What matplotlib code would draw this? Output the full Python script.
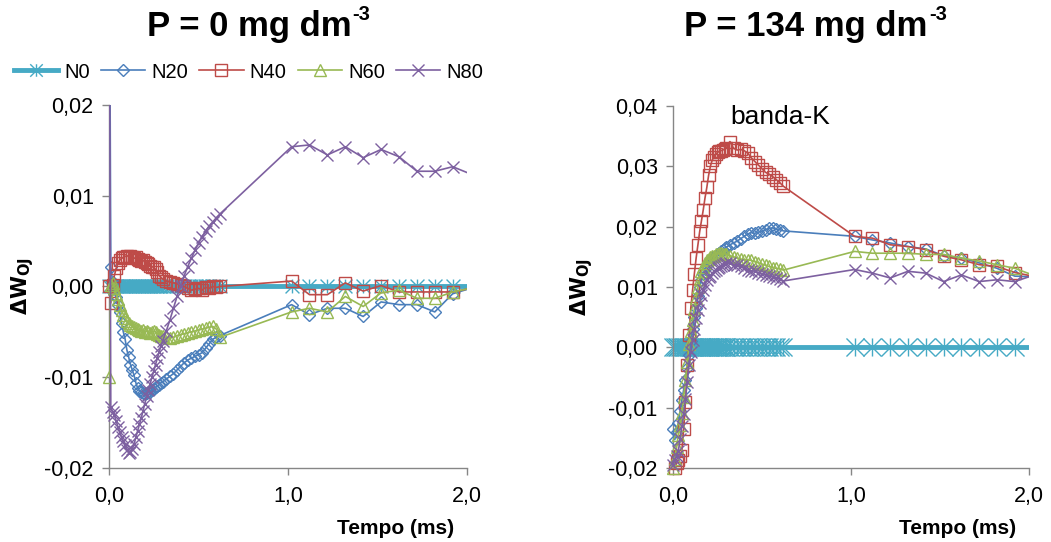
import numpy as np
import matplotlib
matplotlib.use('Agg')
import matplotlib.pyplot as plt
from matplotlib.path import Path
from matplotlib.lines import Line2D
from matplotlib.ticker import FuncFormatter, MultipleLocator

plt.rcParams['font.family'] = ['Liberation Sans', 'DejaVu Sans']

# time axis (ms): dense part then one point every 0.1 ms
t_fast = [0.00, 0.01, 0.02, 0.03, 0.04, 0.05, 0.06, 0.07, 0.08, 0.09,
          0.10, 0.11, 0.12, 0.13, 0.14, 0.15, 0.16, 0.17, 0.18, 0.19,
          0.20, 0.21, 0.22, 0.23, 0.24, 0.25, 0.26, 0.27, 0.28, 0.29,
          0.30, 0.32, 0.34, 0.36, 0.38, 0.40, 0.42, 0.44, 0.46, 0.48,
          0.50, 0.52, 0.54, 0.56, 0.58, 0.60, 0.62]
t_slow = [1.02, 1.12, 1.22, 1.32, 1.42, 1.52, 1.62, 1.72, 1.82, 1.92, 2.02]

series_names = ['N0', 'N20', 'N40', 'N60', 'N80']

# ---- P = 0 mg dm-3 ----
p0_N0 = [0.0] * 47 + [0.0] * 11
p0_N20 = [0.05, 0.0022, 0.0005, -0.0008, -0.0012, -0.0020, -0.0028, -0.0040, -0.0050, -0.0058,
          -0.0070, -0.0078, -0.0086, -0.0092, -0.0098, -0.0106, -0.0112, -0.0115, -0.0116, -0.0117,
          -0.0118, -0.0117, -0.0116, -0.0116, -0.0114, -0.0113, -0.0111, -0.0110, -0.0108, -0.0106,
          -0.0105, -0.0102, -0.0099, -0.0096, -0.0092, -0.0088, -0.0084, -0.0081, -0.0079, -0.0077,
          -0.0075, -0.0073, -0.0068, -0.0063, -0.0058, -0.0056, -0.0054,
          -0.0020, -0.0031, -0.0024, -0.0024, -0.0033, -0.0017, -0.0020, -0.0020, -0.0028, -0.0008, -0.0002]
p0_N40 = [0.0000, -0.0018, 0.0002, 0.0012, 0.0020, 0.0026, 0.0029, 0.0031, 0.0032, 0.0033,
          0.0034, 0.0033, 0.0034, 0.0032, 0.0031, 0.0032, 0.0030, 0.0029, 0.0028, 0.0029,
          0.0027, 0.0026, 0.0025, 0.0023, 0.0022, 0.0021, 0.0019, 0.0016, 0.0012, 0.0010,
          0.0008, 0.0006, 0.0005, 0.0004, 0.0003, 0.0002, 0.0000, -0.0002, -0.0004, -0.0003,
          -0.0002, -0.0004, -0.0001, -0.0002, 0.0000, -0.0001, 0.0000,
          0.0006, -0.0009, -0.0009, 0.0004, -0.0005, 0.0001, -0.0006, -0.0006, -0.0006, -0.0006, -0.0002]
p0_N60 = [-0.0100, 0.0002, 0.0004, -0.0002, -0.0008, -0.0014, -0.0020, -0.0026, -0.0031, -0.0035,
          -0.0038, -0.0040, -0.0042, -0.0044, -0.0045, -0.0046, -0.0047, -0.0048, -0.0049, -0.0048,
          -0.0050, -0.0049, -0.0050, -0.0051, -0.0050, -0.0049, -0.0050, -0.0052, -0.0053, -0.0054,
          -0.0055, -0.0056, -0.0057, -0.0056, -0.0054, -0.0053, -0.0052, -0.0051, -0.0050, -0.0049,
          -0.0048, -0.0047, -0.0046, -0.0045, -0.0044, -0.0047, -0.0056,
          -0.0028, -0.0024, -0.0028, -0.0011, -0.0022, -0.0007, -0.0004, -0.0013, -0.0013, -0.0006, -0.0002]
p0_N80 = [0.05, -0.0133, -0.0138, -0.0142, -0.0148, -0.0155, -0.0160, -0.0166, -0.0170, -0.0175,
          -0.0180, -0.0183, -0.0182, -0.0179, -0.0174, -0.0166, -0.0159, -0.0152, -0.0145, -0.0137,
          -0.0129, -0.0121, -0.0114, -0.0107, -0.0100, -0.0093, -0.0086, -0.0079, -0.0072, -0.0066,
          -0.0060, -0.0049, -0.0037, -0.0024, -0.0011, 0.0001, 0.0012, 0.0022, 0.0031, 0.0040,
          0.0048, 0.0055, 0.0061, 0.0067, 0.0071, 0.0076, 0.0080,
          0.0154, 0.0156, 0.0145, 0.0154, 0.0142, 0.0151, 0.0143, 0.0127, 0.0127, 0.0132, 0.0124]

# ---- P = 134 mg dm-3 ----
p134_N0 = [0.0] * 47 + [0.0] * 11
p134_N20 = [-0.0136, -0.0153, -0.0140, -0.0125, -0.0105, -0.0087, -0.0070, -0.0054, -0.0035, -0.0012,
            0.0010, 0.0030, 0.0050, 0.0066, 0.0085, 0.0100, 0.0112, 0.0122, 0.0130, 0.0137,
            0.0142, 0.0145, 0.0148, 0.0150, 0.0152, 0.0154, 0.0156, 0.0159, 0.0162, 0.0164,
            0.0166, 0.0170, 0.0173, 0.0176, 0.0180, 0.0184, 0.0188, 0.0190, 0.0189, 0.0191,
            0.0192, 0.0195, 0.0197, 0.0198, 0.0196, 0.0195, 0.0193,
            0.0184, 0.0178, 0.0173, 0.0167, 0.0163, 0.0152, 0.0148, 0.0140, 0.0131, 0.0118, 0.0117]
p134_N40 = [-0.0210, -0.0200, -0.0192, -0.0186, -0.0180, -0.0170, -0.0136, -0.0090, -0.0030, 0.0020,
            0.0065, 0.0095, 0.0122, 0.0148, 0.0170, 0.0192, 0.0210, 0.0228, 0.0248, 0.0265,
            0.0285, 0.0300, 0.0310, 0.0316, 0.0320, 0.0323, 0.0325, 0.0326, 0.0327, 0.0329,
            0.0331, 0.0341, 0.0330, 0.0327, 0.0328, 0.0326, 0.0322, 0.0314, 0.0308, 0.0302,
            0.0296, 0.0290, 0.0287, 0.0283, 0.0278, 0.0273, 0.0267,
            0.0184, 0.0181, 0.0170, 0.0167, 0.0162, 0.0151, 0.0145, 0.0137, 0.0134, 0.0124, 0.0118]
p134_N60 = [-0.0200, -0.0185, -0.0165, -0.0145, -0.0128, -0.0109, -0.0082, -0.0054, -0.0025, 0.0005,
            0.0027, 0.0045, 0.0064, 0.0082, 0.0100, 0.0114, 0.0126, 0.0133, 0.0140, 0.0145,
            0.0147, 0.0149, 0.0151, 0.0152, 0.0154, 0.0155, 0.0156, 0.0156, 0.0155, 0.0155,
            0.0154, 0.0152, 0.0150, 0.0148, 0.0146, 0.0145, 0.0145, 0.0144, 0.0142, 0.0140,
            0.0138, 0.0136, 0.0134, 0.0132, 0.0131, 0.0130, 0.0128,
            0.0159, 0.0156, 0.0156, 0.0156, 0.0154, 0.0154, 0.0148, 0.0143, 0.0137, 0.0131, 0.0120]
p134_N80 = [-0.0195, -0.0186, -0.0180, -0.0172, -0.0152, -0.0131, -0.0110, -0.0085, -0.0058, -0.0030,
            -0.0008, 0.0012, 0.0030, 0.0048, 0.0062, 0.0074, 0.0086, 0.0095, 0.0104, 0.0112,
            0.0116, 0.0119, 0.0123, 0.0126, 0.0128, 0.0131, 0.0133, 0.0135, 0.0137, 0.0138,
            0.0140, 0.0139, 0.0137, 0.0136, 0.0134, 0.0131, 0.0129, 0.0127, 0.0126, 0.0124,
            0.0121, 0.0120, 0.0118, 0.0117, 0.0115, 0.0113, 0.0110,
            0.0129, 0.0123, 0.0115, 0.0126, 0.0123, 0.0109, 0.0120, 0.0109, 0.0112, 0.0109, 0.0119]

# excel-like star marker: vertical bar + X
star = Path([(0, -1), (0, 1), (-1, -1), (1, 1), (-1, 1), (1, -1)],
            [Path.MOVETO, Path.LINETO] * 3)

colors = ['#46AAC5', '#4A7EBB', '#BE4B48', '#98B954', '#7D60A0']
markers = [star, 'D', 's', '^', 'x']
msizes = [9, 6.5, 8, 8, 8]
lws = [3.5, 1.2, 1.2, 1.2, 1.2]


def fmt2(v, pos):
    return ('%.2f' % v).replace('.', ',')


def fmt1(v, pos):
    return ('%.1f' % v).replace('.', ',')


def draw_panel(ax, data, ylim, n0_ms):
    t = np.array(t_fast + t_slow)
    for k, y in enumerate(data):
        y = np.array(y)
        ax.plot(t, y, '-', color=colors[k], lw=lws[k], zorder=2 + k)
        ok = (t <= 2.0) & (y >= ylim[0]) & (y <= ylim[1])
        ms = n0_ms if k == 0 else msizes[k]
        ax.plot(t[ok], y[ok], ls='none', marker=markers[k], ms=ms,
                mfc='none', mec=colors[k], mew=1.0, clip_on=False, zorder=2 + k)
    ax.set_xlim(0, 2.0)
    ax.set_ylim(*ylim)
    ax.xaxis.set_major_locator(MultipleLocator(1.0))
    ax.yaxis.set_major_locator(MultipleLocator(0.01))
    ax.xaxis.set_major_formatter(FuncFormatter(fmt1))
    ax.yaxis.set_major_formatter(FuncFormatter(fmt2))
    for s in ['top', 'right']:
        ax.spines[s].set_visible(False)
    for s in ['left', 'bottom']:
        ax.spines[s].set_color('#868686')
        ax.spines[s].set_linewidth(1.0)
    ax.tick_params(direction='out', length=5, width=1, color='#868686',
                   labelsize=15.5, labelcolor='black')
    ax.tick_params(axis='y', pad=6)
    ax.tick_params(axis='x', pad=8)
    ax.set_xlabel('Tempo (ms)', fontsize=15, fontweight='bold')
    ax.xaxis.set_label_coords(0.80, -0.14)
    ax.set_ylabel(r'$\mathbf{\Delta W_{OJ}}$', fontsize=15)


fig = plt.figure(figsize=(10.51, 5.42), dpi=100)
ax1 = fig.add_axes([109 / 1051, 1 - 468 / 542, 358 / 1051, 363 / 542])
ax2 = fig.add_axes([673 / 1051, 1 - 468 / 542, 356 / 1051, 362 / 542])

draw_panel(ax1, [p0_N0, p0_N20, p0_N40, p0_N60, p0_N80], (-0.02, 0.02), 10)
draw_panel(ax2, [p134_N0, p134_N20, p134_N40, p134_N60, p134_N80], (-0.02, 0.04), 13)
ax1.yaxis.set_label_coords(-0.205, 0.5)
ax2.yaxis.set_label_coords(-0.22, 0.5)

ax2.text(0.60, 0.0382, 'banda-K', fontsize=19, ha='center', va='center')

# titles with a small raised "-3"
renderer = fig.canvas.get_renderer()
for cx, main in [(258, 'P = 0 mg dm'), (815, 'P = 134 mg dm')]:
    t1 = fig.text(0, 1 - 36 / 542, main, fontsize=25, fontweight='bold',
                  ha='left', va='baseline')
    t2 = fig.text(0, 1 - 20 / 542, '-3', fontsize=14.5, fontweight='bold',
                  ha='left', va='baseline')
    w1 = t1.get_window_extent(renderer).width
    w2 = t2.get_window_extent(renderer).width
    x0 = cx - (w1 + w2) / 2
    t1.set_x(x0 / 1051)
    t2.set_x((x0 + w1 + 1) / 1051)

handles = []
for k in range(5):
    handles.append(Line2D([], [], color=colors[k], lw=lws[k], marker=markers[k],
                          ms=msizes[k], mfc='none', mec=colors[k], mew=1.0))
fig.legend(handles, series_names, loc='center left', bbox_to_anchor=(0.0, 1 - 72 / 542),
           ncol=5, frameon=False, fontsize=14.5, handlelength=2.2, handletextpad=0.3,
           columnspacing=0.55, borderaxespad=0.3)

fig.savefig('out.png', dpi=100)
